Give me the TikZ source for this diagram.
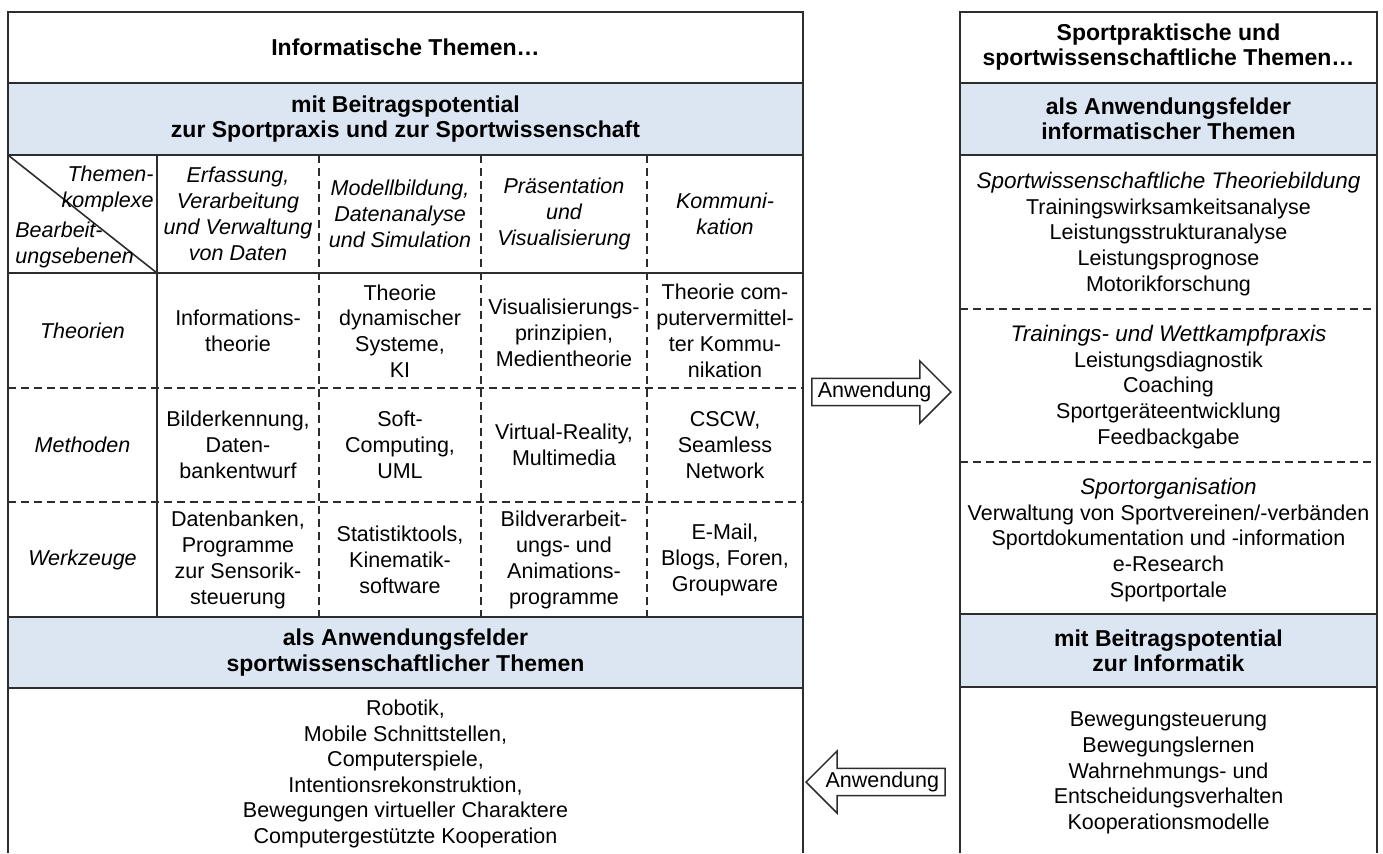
\documentclass[tikz,border=0pt]{standalone}
\usepackage{fontspec}
\setmainfont{Liberation Sans}
\usetikzlibrary{shapes,arrows}
\definecolor{bandblue}{RGB}{220,230,242}
\definecolor{rule}{RGB}{45,45,45}
\tikzset{
	frame/.style = {draw=rule, line width=1pt},
	grid/.style = {draw=rule, line width=0.8pt, dash pattern=on 4pt off 2.5pt},
	band/.style = {fill=bandblue},
	head/.style = {align=center, font=\fontsize{11.5}{12.6}\selectfont\bfseries},
	cell/.style = {align=center, font=\fontsize{10.75}{12.9}\selectfont},
	topic/.style = {align=center, font=\fontsize{10.75}{12.9}\selectfont\itshape},
	field/.style = {align=center, font=\fontsize{10.75}{12.8}\selectfont},
	apply/.style = {draw=rule, line width=0.75pt, fill=white, single arrow,
		single arrow head extend=8.75pt, inner xsep=1pt, inner ysep=1.4pt,
		minimum height=69.5pt, font=\fontsize{10.75}{12.8}\selectfont}
}
\newcommand{\subhead}[1]{{\fontsize{11.25}{12.8}\selectfont\itshape #1}}

\begin{document}
\begin{tikzpicture}[x=0.5pt, y=-0.5pt]
    \useasboundingbox (0,0) rectangle (1383,853);
    % We start with the blue bands of both frames
    \fill [band] (8,83) rectangle (803,155);
    \fill [band] (8,617) rectangle (803,688);
    \fill [band] (960,83) rectangle (1377,155);
    \fill [band] (960,614) rectangle (1377,687);

    % left frame: outline, rows and columns
    \draw [frame] (8,853) -- (8,12) -- (803,12) -- (803,853);
    \draw [frame] (8,83) -- (803,83);
    \draw [frame] (8,155) -- (803,155);
    \draw [frame] (8,273) -- (803,273);
    \draw [frame] (8,617) -- (803,617);
    \draw [frame] (8,688) -- (803,688);
    \draw [frame] (157,155) -- (157,617);
    \draw [frame, line width=0.8pt] (8,155) -- (157,273);
    \draw [grid] (319,155) -- (319,617);
    \draw [grid] (481,155) -- (481,617);
    \draw [grid] (647,155) -- (647,617);
    \draw [grid] (8,388) -- (803,388);
    \draw [grid] (8,502) -- (803,502);

    % right frame
    \draw [frame] (960,853) -- (960,12) -- (1377,12) -- (1377,853);
    \draw [frame] (960,83) -- (1377,83);
    \draw [frame] (960,155) -- (1377,155);
    \draw [frame] (960,614) -- (1377,614);
    \draw [frame] (960,687) -- (1377,687);
    \draw [grid] (960,309) -- (1377,309);
    \draw [grid] (960,462) -- (1377,462);

    % texts of the left frame
    \node [head] (infoTitle) at (405.5,47) {Informatische Themen…};
    \node [head] (infoBand) at (405.5,119) {mit Beitragspotential\\zur Sportpraxis und zur Sportwissenschaft};
    \node [topic, align=right, anchor=north east, inner sep=1pt] (komplexe) at (156,164) {Themen-\\komplexe};
    \node [topic, align=left, anchor=south west, inner sep=1pt] (ebenen) at (13,270) {Bearbeit-\\ungsebenen};
    \node [topic] (erfassung) at (238,214) {Erfassung,\\Verarbeitung\\und Verwaltung\\von Daten};
    \node [topic] (modell) at (400,214) {Modellbildung,\\Datenanalyse\\und Simulation};
    \node [topic] (praesent) at (564,214) {Präsentation\\und\\Visualisierung};
    \node [topic] (kommu) at (725,214) {Kommuni-\\kation};

    \node [topic] (theorien) at (82.5,331) {Theorien};
    \node [topic] (methoden) at (82.5,445) {Methoden};
    \node [topic] (werkzeuge) at (82.5,560) {Werkzeuge};

    \node [cell] (t1) at (238,331) {Informations-\\theorie};
    \node [cell] (t2) at (400,331) {Theorie\\dynamischer\\Systeme,\\KI};
    \node [cell] (t3) at (564,333) {Visualisierungs-\\prinzipien,\\Medientheorie};
    \node [cell] (t4) at (725,331) {Theorie com-\\putervermittel-\\ter Kommu-\\nikation};

    \node [cell] (m1) at (238,445) {Bilderkennung,\\Daten-\\bankentwurf};
    \node [cell] (m2) at (400,445) {Soft-\\Computing,\\UML};
    \node [cell] (m3) at (564,445) {Virtual-Reality,\\Multimedia};
    \node [cell] (m4) at (725,445) {CSCW,\\Seamless\\Network};

    \node [cell] (w1) at (238,560) {Datenbanken,\\Programme\\zur Sensorik-\\steuerung};
    \node [cell] (w2) at (400,560) {Statistiktools,\\Kinematik-\\software};
    \node [cell] (w3) at (564,560) {Bildverarbeit-\\ungs- und\\Animations-\\programme};
    \node [cell] (w4) at (725,560) {E-Mail,\\Blogs, Foren,\\Groupware};

    \node [head] (infoBand2) at (405.5,652.5) {als Anwendungsfelder\\sportwissenschaftlicher Themen};
    \node [field] (infoFields) at (405.5,774) {Robotik,\\Mobile Schnittstellen,\\Computerspiele,\\Intentionsrekonstruktion,\\Bewegungen virtueller Charaktere\\Computergestützte Kooperation};

    % texts of the right frame
    \node [head] (sportTitle) at (1168.5,47) {Sportpraktische und\\sportwissenschaftliche Themen…};
    \node [head] (sportBand) at (1168.5,119) {als Anwendungsfelder\\informatischer Themen};
    \node [field] (theorie) at (1168.5,234) {\subhead{Sportwissenschaftliche Theoriebildung}\\Trainingswirksamkeitsanalyse\\Leistungsstrukturanalyse\\Leistungsprognose\\Motorikforschung};
    \node [field] (praxis) at (1168.5,387) {\subhead{Trainings- und Wettkampfpraxis}\\Leistungsdiagnostik\\Coaching\\Sportgeräteentwicklung\\Feedbackgabe};
    \node [field] (orga) at (1168.5,540) {\subhead{Sportorganisation}\\Verwaltung von Sportvereinen/-verbänden\\Sportdokumentation und -information\\e-Research\\Sportportale};
    \node [head] (sportBand2) at (1168.5,650.5) {mit Beitragspotential\\zur Informatik};
    \node [field] (sportFields) at (1168.5,773) {Bewegungsteuerung\\Bewegungslernen\\Wahrnehmungs- und\\Entscheidungsverhalten\\Kooperationsmodelle};

    % Once the frames are placed, the two arrows go between them
    \node [apply, anchor=tip] (toSport) at (952,392) {Anwendung};
    \node [apply, shape border rotate=180, anchor=tip] (toInfo) at (805,782) {Anwendung};
\end{tikzpicture}
\end{document}
